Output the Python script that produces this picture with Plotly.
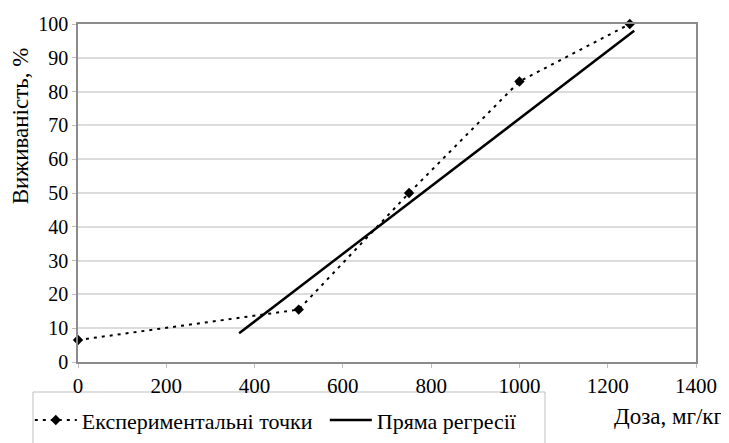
import plotly.graph_objects as go

# Experimental points
dose = [0, 500, 750, 1000, 1250]
survival = [6.5, 15.5, 50, 83, 100]

# Regression line endpoints
reg_dose = [365, 1260]
reg_survival = [8.5, 98]

x_ticks = [0, 200, 400, 600, 800, 1000, 1200, 1400]
y_ticks = [0, 10, 20, 30, 40, 50, 60, 70, 80, 90, 100]

FONT = "Liberation Serif, Times New Roman, DejaVu Serif, serif"

fig = go.Figure()
fig.add_trace(go.Scatter(
    x=dose, y=survival, mode="lines+markers",
    name="Експериментальні точки",
    line=dict(color="black", width=2, dash="3px,5px"),
    marker=dict(symbol="diamond", size=8, color="black"),
    cliponaxis=False,
))
fig.add_trace(go.Scatter(
    x=reg_dose, y=reg_survival, mode="lines",
    name="Пряма регресії",
    line=dict(color="black", width=2.5),
    cliponaxis=False,
))

axis_common = dict(
    showline=True, linecolor="#8c8c8c", linewidth=1.5, mirror=True,
    ticks="outside", ticklen=4, tickcolor="#bfbfbf",
    zeroline=False, automargin=False,
)

fig.update_layout(
    width=721, height=435,
    margin=dict(l=70, r=33, t=16, b=81, autoexpand=False),
    paper_bgcolor="white", plot_bgcolor="white",
    font=dict(family=FONT, size=20, color="black"),
    xaxis=dict(range=[0, 1400], tickvals=x_ticks, showgrid=False,
               tickfont=dict(family=FONT, size=21, color="black"), **axis_common),
    yaxis=dict(range=[0, 100], tickvals=y_ticks, showgrid=True,
               gridcolor="#dcdcdc", gridwidth=1.5,
               tickfont=dict(family=FONT, size=20, color="black"), **axis_common),
    showlegend=True,
    legend=dict(
        orientation="h", x=-0.078, xanchor="left", y=-0.11, yanchor="top",
        borderwidth=0, bgcolor="rgba(0,0,0,0)",
        font=dict(family=FONT, size=22, color="black"),
        itemwidth=42,
        entrywidth=238, entrywidthmode="pixels",
    ),
    shapes=[
        dict(type="rect", xref="paper", yref="paper",
             x0=-0.0728, x1=0.7557, y0=-0.0888, y1=-0.27,
             line=dict(color="#bfbfbf", width=1), fillcolor="rgba(0,0,0,0)",
             layer="below"),
    ],
    annotations=[
        dict(text="Виживаність, %", textangle=-90, xref="paper", yref="paper",
             x=-0.094, y=0.70, xanchor="center", yanchor="middle",
             showarrow=False, font=dict(family=FONT, size=23, color="black")),
        dict(text="Доза, мг/кг", xref="paper", yref="paper",
             x=1.047, y=-0.16, xanchor="right", yanchor="middle",
             showarrow=False, font=dict(family=FONT, size=23, color="black")),
    ],
)

fig.write_html("out.html")
